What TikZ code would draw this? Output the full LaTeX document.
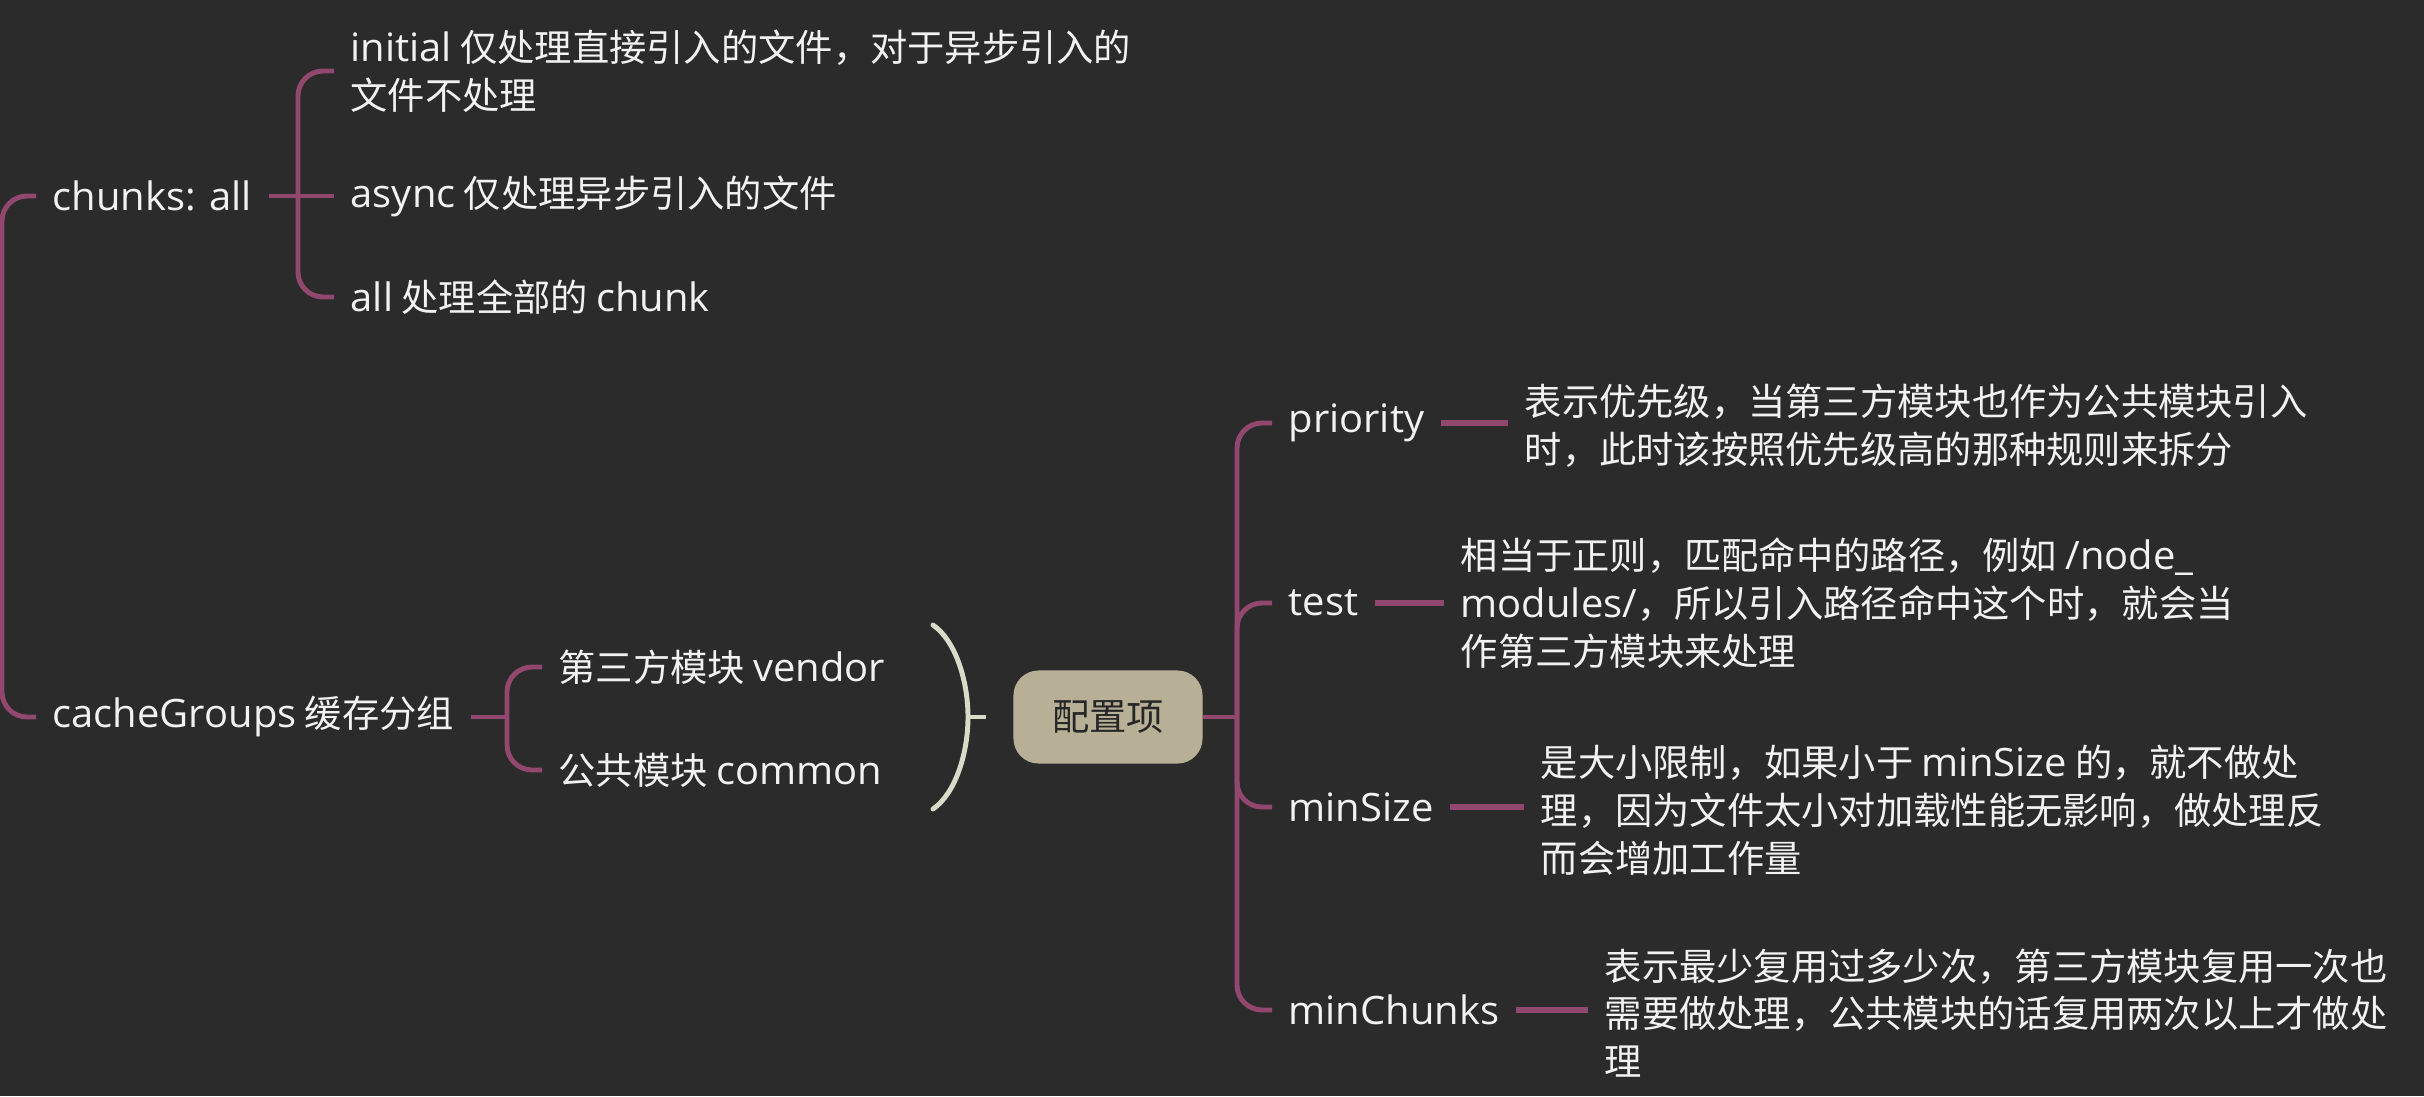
\documentclass[tikz,border=0pt]{standalone}
\usepackage{fontspec}
\setmainfont{Noto Sans CJK SC}
\newfontfamily\lat[Scale=1.05,FakeStretch=1.02]{Open Sans}
\definecolor{bgc}{RGB}{43,43,43}
\definecolor{linec}{RGB}{146,72,110}
\definecolor{boxc}{RGB}{184,176,150}
\definecolor{brkc}{RGB}{218,218,200}
\definecolor{txtc}{RGB}{242,242,242}
\begin{document}
\begin{tikzpicture}[x=0.01cm,y=-0.01cm,
  txt/.style={anchor=west,inner xsep=0.16cm,inner ysep=0pt,align=left,text=txtc,
    font={\fontsize{10.6}{13.6}\selectfont}},
  cfgbox/.style={fill=boxc,rounded corners=0.25cm,minimum width=1.89cm,minimum height=0.93cm,
    text=black!85,inner sep=0pt,font={\fontsize{10.6}{13.6}\selectfont}},
  conn/.style={draw=linec,line width=1.4pt,rounded corners=0.25cm},
  leaf/.style={draw=linec,line width=1.6pt},
  brk/.style={draw=brkc,line width=1.4pt,line cap=round}]
\fill[bgc] (0,0) rectangle (2424,1096);
\useasboundingbox (0,0) rectangle (2424,1096);

% left subtree
\node[txt] (chunks) at (36,196) {{\lat chunks: all}};
\node[txt] (initial) at (334,71) {{\lat initial} 仅处理直接引入的文件，对于异步引入的\\文件不处理};
\node[txt] (async) at (334,196) {{\lat async} 仅处理异步引入的文件};
\node[txt] (all) at (334,297) {{\lat all} 处理全部的 {\lat chunk}};
\node[txt] (cache) at (36,717) {{\lat cacheGroups} 缓存分组};
\node[txt] (vendor) at (542,667) {第三方模块 {\lat vendor}};
\node[txt] (common) at (542,770) {公共模块 {\lat common}};

% summary
\node[cfgbox] (cfg) at (1108,717) {配置项};

% right subtree
\node[txt] (priority) at (1272,423) {{\lat priority}};
\node[txt] (prioD) at (1508,426) {表示优先级，当第三方模块也作为公共模块引入\\时，此时该按照优先级高的那种规则来拆分};
\node[txt] (test) at (1272,603) {{\lat test}};
\node[txt] (testD) at (1444,603) {相当于正则，匹配命中的路径，例如 {\lat /node\_}\\{\lat modules/}，所以引入路径命中这个时，就会当\\作第三方模块来处理};
\node[txt] (minsize) at (1272,807) {{\lat minSize}};
\node[txt] (minsizeD) at (1524,810) {是大小限制，如果小于 {\lat minSize} 的，就不做处\\理，因为文件太小对加载性能无影响，做处理反\\而会增加工作量};
\node[txt] (minch) at (1272,1010) {{\lat minChunks}};
\node[txt] (minchD) at (1588,1013) {表示最少复用过多少次，第三方模块复用一次也\\需要做处理，公共模块的话复用两次以上才做处\\理};

% junction coordinates
\coordinate (spine0) at (2,456);
\coordinate (cj) at (298,196);
\coordinate (gj) at (507,717);
\coordinate (sumT) at (933,625);
\coordinate (sumM) at (968,717);
\coordinate (sumB) at (933,809);
\coordinate (spine2) at (1237,717);

% connectors
\draw[conn] (chunks.west) -| (spine0) |- (cache.west);
\draw[conn] (chunks.east) -- (async.west);
\draw[conn] (cj) |- (initial.west);
\draw[conn] (cj) |- (all.west);
\draw[conn] (cache.east) -- (gj);
\draw[conn] (gj) |- (vendor.west);
\draw[conn] (gj) |- (common.west);

\draw[brk] (sumT) .. controls (955,640) and (968,680) .. (sumM) .. controls (968,754) and (955,794) .. (sumB);
\draw[brk,line cap=butt] (sumM) -- ([xshift=-0.27cm]cfg.west);

\draw[conn] (cfg.east) -- (spine2);
\draw[conn] (spine2) |- (priority.west);
\draw[conn] (spine2) |- (test.west);
\draw[conn] (spine2) |- (minsize.west);
\draw[conn] (spine2) |- (minch.west);

\draw[leaf] (priority.east) -- (priority.east -| prioD.west);
\draw[leaf] (test.east) -- (testD.west);
\draw[leaf] (minsize.east) -- (minsize.east -| minsizeD.west);
\draw[leaf] (minch.east) -- (minch.east -| minchD.west);
\end{tikzpicture}
\end{document}
